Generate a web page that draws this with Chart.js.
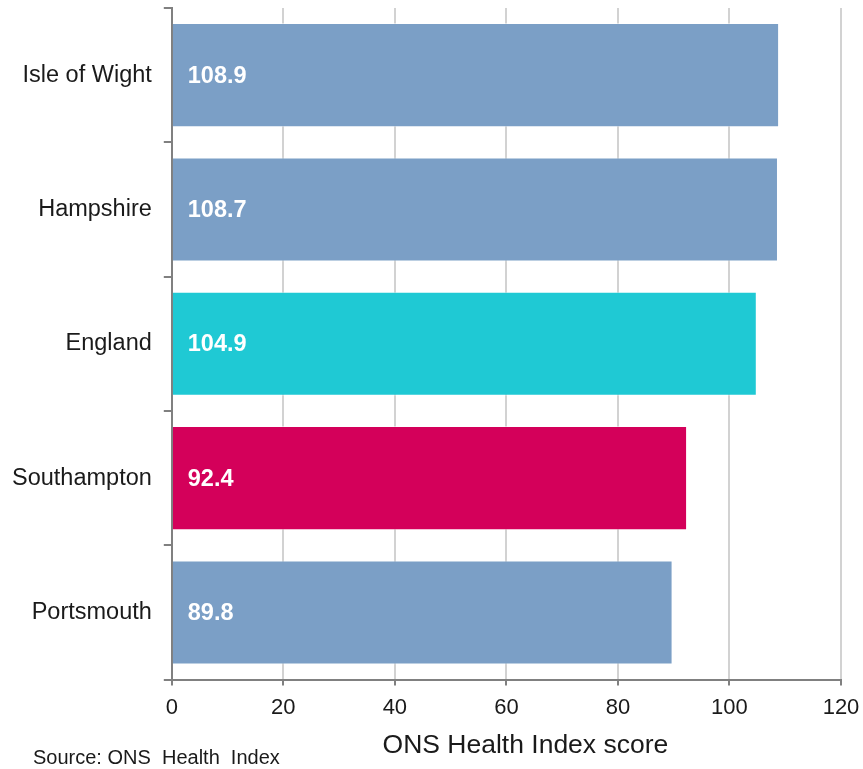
<!DOCTYPE html>
<html>
<head>
<meta charset="utf-8">
<script src="https://cdn.jsdelivr.net/npm/chart.js@4"></script>
<style>
  html, body { margin: 0; padding: 0; background: #ffffff; }
  #wrap { width: 863px; height: 769px; position: relative; }
</style>
</head>
<body>
<div id="wrap"><canvas id="chart" width="863" height="769"></canvas></div>
<script>
// Health Index scores by area
const areas = ['Isle of Wight', 'Hampshire', 'England', 'Southampton', 'Portsmouth'];
const scores = [108.9, 108.7, 104.9, 92.4, 89.8];
const barColours = ['#7b9fc6', '#7b9fc6', '#1fc9d4', '#d4005a', '#7b9fc6'];
const xTicks = [0, 20, 40, 60, 80, 100, 120];
const axisTitle = 'ONS Health Index score';
const sourceNote = 'Source: ONS  Health  Index';

const FONT = '"Liberation Sans", Arial, sans-serif';

// White value labels placed just inside the start of each bar
const valueLabels = {
  id: 'valueLabels',
  afterDatasetsDraw(chart) {
    const ctx = chart.ctx;
    const meta = chart.getDatasetMeta(0);
    ctx.save();
    ctx.font = 'bold 23.5px ' + FONT;
    ctx.fillStyle = '#ffffff';
    ctx.textAlign = 'left';
    ctx.textBaseline = 'middle';
    meta.data.forEach((bar, i) => {
      ctx.fillText(scores[i].toFixed(1), bar.base + 15, bar.y + 1);
    });
    ctx.restore();
  }
};

// Axis title and source note below the chart
const footerText = {
  id: 'footerText',
  afterDraw(chart) {
    const ctx = chart.ctx;
    const area = chart.chartArea;
    ctx.save();
    ctx.fillStyle = '#1a1a1a';
    ctx.textBaseline = 'middle';
    ctx.font = '26.5px ' + FONT;
    ctx.textAlign = 'center';
    ctx.fillText(axisTitle, (area.left + area.right) / 2 + 19, 746);
    ctx.font = '20px ' + FONT;
    ctx.textAlign = 'left';
    ctx.fillText(sourceNote, 33, 758);
    ctx.restore();
  }
};

new Chart(document.getElementById('chart'), {
  type: 'bar',
  data: {
    labels: areas,
    datasets: [{
      data: scores,
      backgroundColor: barColours,
      borderColor: 'rgba(255,255,255,0.5)',
      borderWidth: 1,
      barPercentage: 0.775,
      categoryPercentage: 1.0
    }]
  },
  options: {
    indexAxis: 'y',
    responsive: false,
    animation: false,
    layout: { padding: { left: 0, right: 22, top: 8, bottom: 39 } },
    plugins: {
      legend: { display: false },
      tooltip: { enabled: false }
    },
    scales: {
      x: {
        min: 0,
        max: 120,
        afterBuildTicks(scale) {
          scale.ticks = xTicks.map(v => ({ value: v }));
        },
        // the outer padding is set by the layout instead
        afterFit(scale) {
          scale.paddingLeft = 0;
          scale.paddingRight = 0;
        },
        grid: {
          color: '#d2d2d2',
          lineWidth: 2,
          tickColor: '#808080',
          tickLength: 6,
          drawTicks: true
        },
        border: { color: '#808080', width: 2 },
        ticks: {
          color: '#1a1a1a',
          font: { family: FONT, size: 22 },
          padding: 9
        }
      },
      y: {
        offset: true,
        afterFit(scale) {
          scale.paddingTop = 0;
          scale.paddingBottom = 0;
        },
        grid: {
          offset: true,
          drawOnChartArea: false,
          tickColor: '#808080',
          tickLength: 8,
          lineWidth: 2
        },
        border: { color: '#808080', width: 2 },
        ticks: {
          color: '#1a1a1a',
          font: { family: FONT, size: 23.5 },
          padding: 12
        }
      }
    }
  },
  plugins: [valueLabels, footerText]
});
</script>
</body>
</html>
